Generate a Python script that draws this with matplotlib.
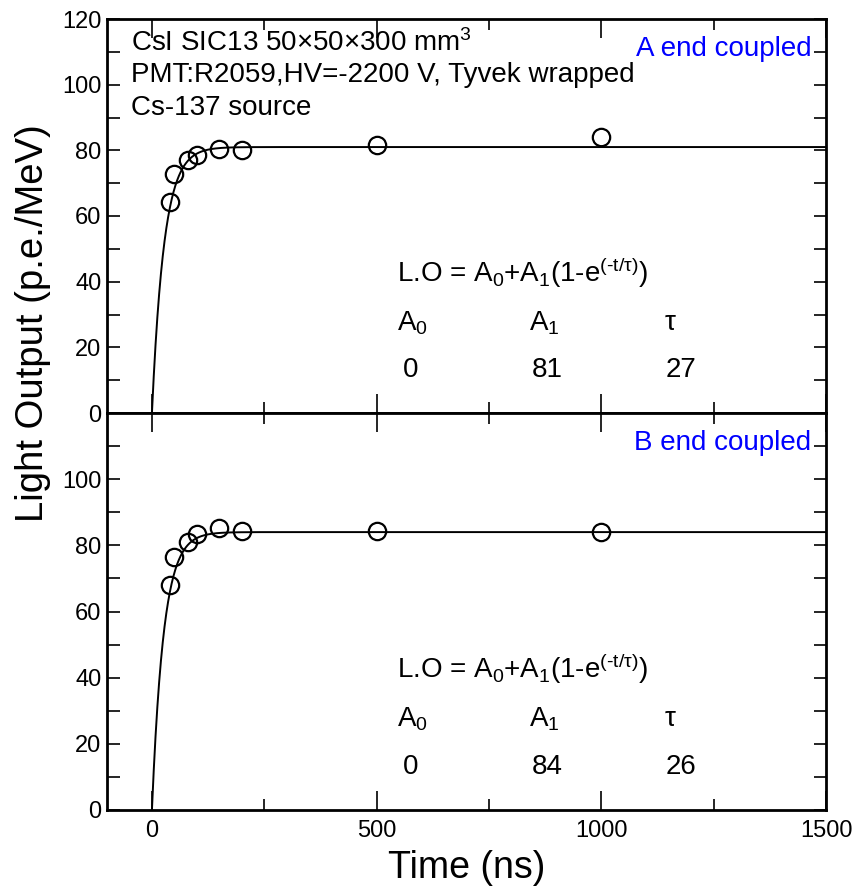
import numpy as np
import matplotlib
matplotlib.use("Agg")
import matplotlib.pyplot as plt
from matplotlib.ticker import MultipleLocator

plt.rcParams['font.family'] = ['Liberation Sans', 'DejaVu Sans']
plt.rcParams['mathtext.fontset'] = 'custom'
plt.rcParams['mathtext.rm'] = 'Liberation Sans'
plt.rcParams['mathtext.it'] = 'Liberation Sans'
plt.rcParams['mathtext.default'] = 'regular'

# Gate width (ns) and measured light output (p.e./MeV)
time_ns = [40, 50, 80, 100, 150, 200, 500, 1000]
lo_a_end = [64.4, 72.8, 77.1, 78.6, 80.5, 80.0, 81.7, 84.0]
lo_b_end = [68.0, 76.4, 81.1, 83.4, 85.2, 84.4, 84.4, 84.0]

# Fit parameters: L.O = A0 + A1 (1 - exp(-t/tau))
fit_a = {"A0": 0, "A1": 81, "tau": 27}
fit_b = {"A0": 0, "A1": 84, "tau": 26}

panel_labels = ["A end coupled", "B end coupled"]
x_ticks = [0, 500, 1000, 1500]

fig = plt.figure(figsize=(8.52, 8.91), dpi=100)
left, right = 107 / 852, 826 / 852
top, mid, bot = 1 - 19 / 891, 1 - 413 / 891, 1 - 810 / 891
ax_top = fig.add_axes([left, mid, right - left, top - mid])
ax_bot = fig.add_axes([left, bot, right - left, mid - bot], sharex=ax_top)

t = np.linspace(0, 1500, 1500)
FS = 20

for ax, lo, fit, label, yticks in [
    (ax_top, lo_a_end, fit_a, panel_labels[0], [0, 20, 40, 60, 80, 100, 120]),
    (ax_bot, lo_b_end, fit_b, panel_labels[1], [0, 20, 40, 60, 80, 100]),
]:
    curve = fit["A0"] + fit["A1"] * (1 - np.exp(-t / fit["tau"]))
    ax.plot(t, curve, color='black', lw=1.4, zorder=2)
    ax.plot(time_ns, lo, 'o', ms=12.5, mfc='none', mec='black', mew=1.6, zorder=3)
    ax.set_xlim(-100, 1500)
    ax.set_ylim(0, 120)
    ax.set_yticks(yticks)
    ax.yaxis.set_minor_locator(MultipleLocator(10))
    ax.set_xticks(x_ticks)
    ax.xaxis.set_minor_locator(MultipleLocator(250))
    ax.tick_params(which='both', direction='in', top=True, right=True, labelsize=17)
    ax.tick_params(which='major', axis='x', length=14, width=1.2, pad=7)
    ax.tick_params(which='minor', axis='x', length=8, width=1.2)
    ax.tick_params(which='both', axis='y', length=9, width=1.2, pad=4)
    for s in ax.spines.values():
        s.set_linewidth(2)

    ax.text(0.98, 0.925, label, transform=ax.transAxes, ha='right', va='center',
            color='blue', fontsize=FS)

    # fit formula and parameter table
    ax.text(545, 42.8, "L.O = A$_0$+A$_1$(1-e$^{(\u2010t/\u03c4)}$)", fontsize=FS,
            ha='left', va='center')
    ax.text(545, 27.4, "A$_0$", fontsize=FS, ha='left', va='center')
    ax.text(840, 27.4, "A$_1$", fontsize=FS, ha='left', va='center')
    ax.text(1140, 27.4, "τ", fontsize=FS, ha='left', va='center')
    ax.text(575, 13.1, f"{fit['A0']}", fontsize=FS, ha='center', va='center')
    ax.text(880, 13.1, f"{fit['A1']}", fontsize=FS, ha='center', va='center')
    ax.text(1178, 13.1, f"{fit['tau']}", fontsize=FS, ha='center', va='center')

plt.setp(ax_top.get_xticklabels(), visible=False)

ax_top.text(-47, 112.7, "CsI SIC13 50×50×300 mm$^3$", fontsize=FS, ha='left', va='center')
ax_top.text(-47, 102.8, "PMT:R2059,HV=-2200 V, Tyvek wrapped", fontsize=FS,
            ha='left', va='center')
ax_top.text(-47, 93.0, "Cs-137 source", fontsize=FS, ha='left', va='center')

ax_bot.set_xlabel("Time (ns)", fontsize=27, labelpad=6)
fig.text(33 / 852, 1 - 323 / 891, "Light Output (p.e./MeV)", rotation=90,
         ha='center', va='center', fontsize=27.5)

fig.savefig("out.png", dpi=100)
